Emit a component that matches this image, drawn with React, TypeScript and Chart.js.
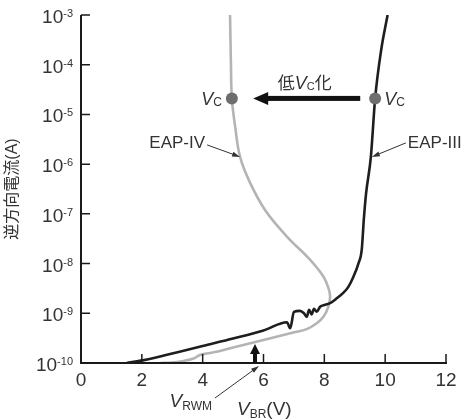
import React, { useEffect, useRef } from 'react';
import { Chart, registerables } from 'chart.js';

Chart.register(...registerables);

// ---- axis definitions ----
const xTickValues = [0, 2, 4, 6, 8, 10, 12];
const yExponents = [-10, -9, -8, -7, -6, -5, -4, -3];

// ---- EAP-IV (gray) : reverse voltage (V) / reverse current (A) ----
const eap4Voltage = [2.6, 3.0, 3.37, 3.7, 3.91, 4.13, 4.5, 5.0, 6.0, 6.98, 7.42, 7.75, 7.97, 8.13, 8.19, 8.15, 7.97, 7.53, 6.77, 6.05, 5.56, 5.23, 5.07, 4.96, 4.93, 4.9];
const eap4Current = [1.0e-10, 1.02e-10, 1.1e-10, 1.23e-10, 1.45e-10, 1.55e-10, 1.7e-10, 2.05e-10, 2.9e-10, 4.1e-10, 4.8e-10, 6.3e-10, 8.5e-10, 1.35e-9, 2.1e-9, 3.0e-9, 5.5e-9, 1.2e-8, 3.5e-8, 1.2e-7, 4.2e-7, 1.4e-6, 5.6e-6, 2.1e-5, 1.0e-4, 1.0e-3];

// ---- EAP-III (black) ----
const eap3Voltage = [1.5, 2.03, 2.5, 3.0, 4.0, 5.0, 6.0, 6.77, 6.88, 7.0, 7.2, 7.33, 7.42, 7.5, 7.58, 7.66, 7.75, 7.86, 8.03, 8.19, 8.41, 8.63, 8.79, 8.96, 9.12, 9.23, 9.3, 9.37, 9.53, 9.67, 9.87, 10.08];
const eap3Current = [1.0e-10, 1.13e-10, 1.3e-10, 1.55e-10, 2.2e-10, 3.1e-10, 4.5e-10, 6.6e-10, 5.0e-10, 1.07e-9, 1.12e-9, 1.0e-9, 8.5e-10, 1.17e-9, 9.5e-10, 1.23e-9, 1.07e-9, 1.35e-9, 1.48e-9, 1.6e-9, 2.0e-9, 2.6e-9, 3.4e-9, 5.5e-9, 1.0e-8, 1.9e-8, 8.0e-8, 2.5e-7, 1.4e-6, 2.1e-5, 2.0e-4, 1.0e-3];

// ---- V_C points ----
const vcVoltage = [4.96, 9.67];
const vcCurrent = [2.1e-5, 2.1e-5];

// ---- annotations (data coordinates) ----
const shiftArrowFromV = 9.18;
const shiftArrowToV = 5.66;
const shiftArrowCurrent = 2.1e-5;
const vrwmVoltage = 5.72;
const vrwmTipCurrent = 2.4e-10;
const eap4LabelV = 5.23;
const eap4LabelI = 1.4e-6;
const eap3LabelV = 9.53;
const eap3LabelI = 1.4e-6;

const FONT = '"Liberation Sans", "Noto Sans CJK JP", sans-serif';
const TEXT = '#333333';

type Part = { t: string; size: number; italic?: boolean; dy?: number };

function drawRich(ctx: CanvasRenderingContext2D, parts: Part[], x: number, y: number, align: 'left' | 'right' | 'center') {
  ctx.save();
  ctx.textAlign = 'left';
  ctx.textBaseline = 'alphabetic';
  const widths = parts.map((p) => {
    ctx.font = `${p.italic ? 'italic ' : ''}${p.size}px ${FONT}`;
    return ctx.measureText(p.t).width;
  });
  const total = widths.reduce((a, b) => a + b, 0);
  let cx = align === 'left' ? x : align === 'right' ? x - total : x - total / 2;
  parts.forEach((p, i) => {
    ctx.font = `${p.italic ? 'italic ' : ''}${p.size}px ${FONT}`;
    ctx.fillText(p.t, cx, y + (p.dy || 0));
    cx += widths[i];
  });
  ctx.restore();
}

function arrowHead(ctx: CanvasRenderingContext2D, x1: number, y1: number, x2: number, y2: number, len: number, half: number) {
  const a = Math.atan2(y2 - y1, x2 - x1);
  const c = Math.cos(a), s = Math.sin(a);
  ctx.beginPath();
  ctx.moveTo(x2, y2);
  ctx.lineTo(x2 - len * c + half * s, y2 - len * s - half * c);
  ctx.lineTo(x2 - len * c - half * s, y2 - len * s + half * c);
  ctx.closePath();
  ctx.fill();
}

function thinArrow(ctx: CanvasRenderingContext2D, x1: number, y1: number, x2: number, y2: number) {
  ctx.save();
  ctx.strokeStyle = TEXT;
  ctx.fillStyle = TEXT;
  ctx.lineWidth = 1;
  const a = Math.atan2(y2 - y1, x2 - x1);
  ctx.beginPath();
  ctx.moveTo(x1, y1);
  ctx.lineTo(x2 - 5 * Math.cos(a), y2 - 5 * Math.sin(a));
  ctx.stroke();
  arrowHead(ctx, x1, y1, x2, y2, 8, 2.5);
  ctx.restore();
}

const annotationPlugin = {
  id: 'annotations',
  afterDatasetsDraw(chart: any) {
    const ctx: CanvasRenderingContext2D = chart.ctx;
    const xs = chart.scales.x;
    const ys = chart.scales.y;
    const area = chart.chartArea;
    const left = xs.getPixelForValue(0);
    const bottom = ys.getPixelForValue(1e-10);
    const top = ys.getPixelForValue(1e-3);
    const right = xs.getPixelForValue(12);

    ctx.save();
    // axes
    ctx.strokeStyle = '#1a1a1a';
    ctx.lineWidth = 2;
    ctx.beginPath();
    ctx.moveTo(left, top);
    ctx.lineTo(left, bottom);
    ctx.lineTo(right + 1, bottom);
    ctx.stroke();
    // ticks (inward)
    ctx.lineWidth = 1.5;
    ctx.beginPath();
    yExponents.forEach((e) => {
      const py = ys.getPixelForValue(Math.pow(10, e));
      ctx.moveTo(left, py);
      ctx.lineTo(left + 9, py);
    });
    xTickValues.forEach((v) => {
      if (v === 0) return;
      const px = xs.getPixelForValue(v);
      ctx.moveTo(px, bottom);
      ctx.lineTo(px, bottom - 9);
    });
    ctx.stroke();

    // tick labels
    ctx.fillStyle = TEXT;
    yExponents.forEach((e) => {
      const py = ys.getPixelForValue(Math.pow(10, e));
      ctx.font = `11px ${FONT}`;
      const ew = ctx.measureText(String(e)).width;
      const ex = left - 8;
      drawRich(ctx, [
        { t: '10', size: 19 },
        { t: String(e), size: 11, dy: -6 },
      ], ex, py + 8, 'right');
      void ew;
    });
    ctx.textAlign = 'center';
    ctx.textBaseline = 'alphabetic';
    ctx.font = `19px ${FONT}`;
    xTickValues.forEach((v) => {
      ctx.fillText(String(v), xs.getPixelForValue(v), bottom + 23);
    });

    // y title
    ctx.save();
    ctx.translate(13, (top + bottom) / 2);
    ctx.rotate(-Math.PI / 2);
    ctx.textAlign = 'center';
    ctx.textBaseline = 'middle';
    ctx.font = `16px ${FONT}`;
    ctx.fillText('逆方向電流(A)', 0, 0);
    ctx.restore();

    // x title  V_BR(V)
    drawRich(ctx, [
      { t: 'V', size: 19, italic: true },
      { t: 'BR', size: 12, dy: 3 },
      { t: '(V)', size: 19 },
    ], xs.getPixelForValue(vrwmVoltage) - 18, bottom + 52, 'left');

    // V_RWM thick arrow
    const vx = xs.getPixelForValue(vrwmVoltage);
    const vTip = ys.getPixelForValue(vrwmTipCurrent);
    ctx.fillStyle = '#111111';
    ctx.fillRect(vx - 2, vTip + 8, 4, bottom - vTip - 8);
    arrowHead(ctx, vx, bottom, vx, vTip, 10, 5);
    // V_RWM label
    ctx.fillStyle = TEXT;
    drawRich(ctx, [
      { t: 'V', size: 19, italic: true },
      { t: 'RWM', size: 12, dy: 3 },
    ], vx - 43, bottom + 44, 'right');
    thinArrow(ctx, vx - 40, bottom + 35, vx + 4, bottom + 3);

    // shift arrow (低V_C化)
    const ay = ys.getPixelForValue(shiftArrowCurrent);
    const ax1 = xs.getPixelForValue(shiftArrowFromV);
    const ax2 = xs.getPixelForValue(shiftArrowToV);
    ctx.fillStyle = '#111111';
    ctx.fillRect(ax2 + 12, ay - 2.5, ax1 - ax2 - 12, 5);
    arrowHead(ctx, ax1, ay, ax2, ay, 15, 6.5);
    ctx.fillStyle = TEXT;
    drawRich(ctx, [
      { t: '低', size: 17 },
      { t: 'V', size: 18, italic: true },
      { t: 'C', size: 11, dy: 1 },
      { t: '化', size: 17 },
    ], (ax1 + ax2) / 2 - 2, ay - 9, 'center');

    // V_C labels
    const g = { x: xs.getPixelForValue(vcVoltage[0]), y: ys.getPixelForValue(vcCurrent[0]) };
    const b = { x: xs.getPixelForValue(vcVoltage[1]), y: ys.getPixelForValue(vcCurrent[1]) };
    drawRich(ctx, [
      { t: 'V', size: 18, italic: true },
      { t: 'C', size: 12, dy: 1 },
    ], g.x - 10, g.y + 7, 'right');
    drawRich(ctx, [
      { t: 'V', size: 18, italic: true },
      { t: 'C', size: 12, dy: 1 },
    ], b.x + 9, b.y + 7, 'left');

    // EAP labels
    const e4 = { x: xs.getPixelForValue(eap4LabelV), y: ys.getPixelForValue(eap4LabelI) };
    const e3 = { x: xs.getPixelForValue(eap3LabelV), y: ys.getPixelForValue(eap3LabelI) };
    drawRich(ctx, [{ t: 'EAP-IV', size: 17 }], e4.x - 35, e4.y - 9, 'right');
    thinArrow(ctx, e4.x - 33, e4.y - 12, e4.x, e4.y);
    drawRich(ctx, [{ t: 'EAP-III', size: 17 }], e3.x + 37, e3.y - 9, 'left');
    thinArrow(ctx, e3.x + 35, e3.y - 14, e3.x + 1, e3.y);

    void area;
    ctx.restore();
  },
};

export default function App() {
  const ref = useRef<HTMLCanvasElement | null>(null);
  useEffect(() => {
    if (!ref.current) return;
    const toXY = (xv: number[], yv: number[]) => xv.map((x, i) => ({ x, y: yv[i] }));
    const chart = new Chart(ref.current, {
      type: 'scatter',
      data: {
        datasets: [
          {
            data: toXY(vcVoltage, vcCurrent),
            pointRadius: 6,
            pointBackgroundColor: '#6e6e6e',
            pointBorderWidth: 0,
            showLine: false,
          },
          {
            label: 'EAP-III',
            data: toXY(eap3Voltage, eap3Current),
            showLine: true,
            borderColor: '#1e1e1e',
            borderWidth: 2.6,
            pointRadius: 0,
            cubicInterpolationMode: 'monotone',
          },
          {
            label: 'EAP-IV',
            data: toXY(eap4Voltage, eap4Current),
            showLine: true,
            borderColor: '#b4b4b4',
            borderWidth: 2.6,
            pointRadius: 0,
            tension: 0.4,
          },
        ],
      } as any,
      options: {
        animation: false,
        responsive: false,
        maintainAspectRatio: false,
        layout: { padding: { left: 81, right: 18, top: 15, bottom: 56 } },
        plugins: { legend: { display: false }, tooltip: { enabled: false } },
        scales: {
          x: {
            type: 'linear',
            min: 0,
            max: 12,
            grid: { display: false, drawTicks: false },
            ticks: { display: false },
            border: { display: false },
          },
          y: {
            type: 'logarithmic',
            min: 1e-10,
            max: 1e-3,
            grid: { display: false, drawTicks: false },
            ticks: { display: false },
            border: { display: false },
          },
        },
      } as any,
      plugins: [annotationPlugin],
    });
    return () => chart.destroy();
  }, []);
  return (
    <div style={{ position: 'fixed', left: 0, top: 0, width: 464, height: 419, background: '#fff' }}>
      <canvas ref={ref} width={464} height={419} />
    </div>
  );
}
